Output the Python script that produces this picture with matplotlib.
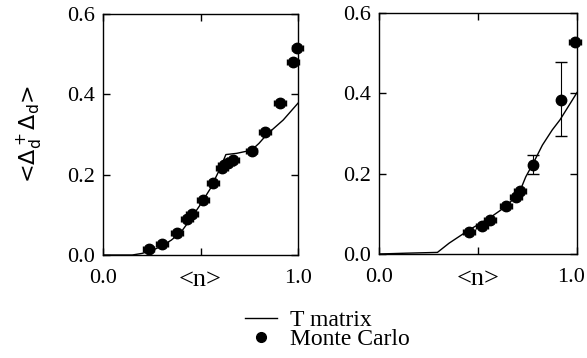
import numpy as np
import matplotlib
matplotlib.use("Agg")
import matplotlib.pyplot as plt
import matplotlib.transforms as mtrans
from matplotlib.lines import Line2D

plt.rcParams['font.family'] = ['Liberation Serif', 'DejaVu Serif']

# left panel: T matrix curve
tl_x = [0.0, 0.15, 0.2, 0.25, 0.3, 0.35, 0.4, 0.45, 0.5, 0.55, 0.6, 0.63, 0.685, 0.762, 0.8, 0.84, 0.924, 1.0]
tl_y = [0.0, 0.0, 0.004, 0.011, 0.022, 0.037, 0.057, 0.09, 0.126, 0.165, 0.215, 0.25, 0.253, 0.261, 0.278, 0.3, 0.336, 0.378]
# left panel: Monte Carlo
ml_x = [0.234, 0.303, 0.381, 0.432, 0.456, 0.513, 0.564, 0.610, 0.619, 0.641, 0.667, 0.762, 0.832, 0.906, 0.974, 0.997]
ml_y = [0.014, 0.027, 0.054, 0.090, 0.102, 0.137, 0.179, 0.216, 0.224, 0.230, 0.237, 0.260, 0.305, 0.379, 0.481, 0.516]
ml_xerr = 0.03

# right panel: T matrix curve
tr_x = [0.0, 0.135, 0.295, 0.354, 0.455, 0.556, 0.64, 0.707, 0.741, 0.783, 0.825, 0.875, 0.914, 1.0]
tr_y = [0.0, 0.002, 0.004, 0.027, 0.06, 0.089, 0.118, 0.151, 0.192, 0.23, 0.271, 0.309, 0.334, 0.402]
# right panel: Monte Carlo (horizontal error bars)
mr_x = [0.455, 0.520, 0.562, 0.643, 0.694, 0.714, 0.990]
mr_y = [0.054, 0.069, 0.084, 0.119, 0.142, 0.156, 0.527]
mr_xerr = 0.03
# right panel: Monte Carlo (vertical error bars)
mv_x = [0.778, 0.918]
mv_y = [0.222, 0.384]
mv_lo = [0.024, 0.091]
mv_hi = [0.025, 0.094]

fig = plt.figure(figsize=(5.87, 3.58), dpi=100)
ax1 = fig.add_axes([0.1755, 0.2877, 0.3322, 0.6733])
ax2 = fig.add_axes([0.6457, 0.2905, 0.3373, 0.6732])

def style(ax):
    ax.set_xlim(0, 1)
    ax.set_ylim(0, 0.6)
    ax.set_xticks([0, 0.5, 1])
    ax.set_xticklabels(['0.0', '<n>', '1.0'])
    ax.set_yticks([0, 0.2, 0.4, 0.6])
    ax.set_yticklabels(['0.0', '0.2', '0.4', '0.6'])
    ax.tick_params(direction='in', top=True, right=True, length=5, width=1, labelsize=16, pad=6)
    ax.tick_params(axis='x', pad=10)
    ax.get_xticklabels()[1].set_fontsize(19)
    for s in ax.spines.values():
        s.set_linewidth(1)

ax1.plot(tl_x, tl_y, color='black', lw=1)
ax1.errorbar(ml_x, ml_y, xerr=ml_xerr, fmt='o', color='black', ms=7.5, capsize=2, elinewidth=0.8, clip_on=False)
ax2.plot(tr_x, tr_y, color='black', lw=1)
ax2.errorbar(mr_x, mr_y, xerr=mr_xerr, fmt='o', color='black', ms=7.5, capsize=2, elinewidth=0.8, clip_on=False)
ax2.errorbar(mv_x, mv_y, yerr=[mv_lo, mv_hi], fmt='o', color='black', ms=7.5, capsize=4.5, elinewidth=0.8, clip_on=False)
style(ax1)
style(ax2)

# nudge the right-most "1.0" so it stays inside the figure
lab = ax2.get_xticklabels()[2]
lab.set_transform(lab.get_transform() + mtrans.ScaledTranslation(-4/72, 0, fig.dpi_scale_trans))

ax1.set_ylabel(r'<$\Delta_\mathrm{d}^+\Delta_\mathrm{d}$>', family='DejaVu Sans', fontsize=16, labelpad=16)

handles = [Line2D([], [], color='black', lw=1),
           Line2D([], [], color='black', marker='o', ls='none', ms=7)]
fig.legend(handles, ['T matrix', 'Monte Carlo'], loc='upper left', bbox_to_anchor=(0.417, 0.135),
           frameon=False, fontsize=17, handlelength=1.36, handletextpad=0.55, labelspacing=-0.1,
           borderpad=0, borderaxespad=0)

fig.savefig('out.png', dpi=100)
